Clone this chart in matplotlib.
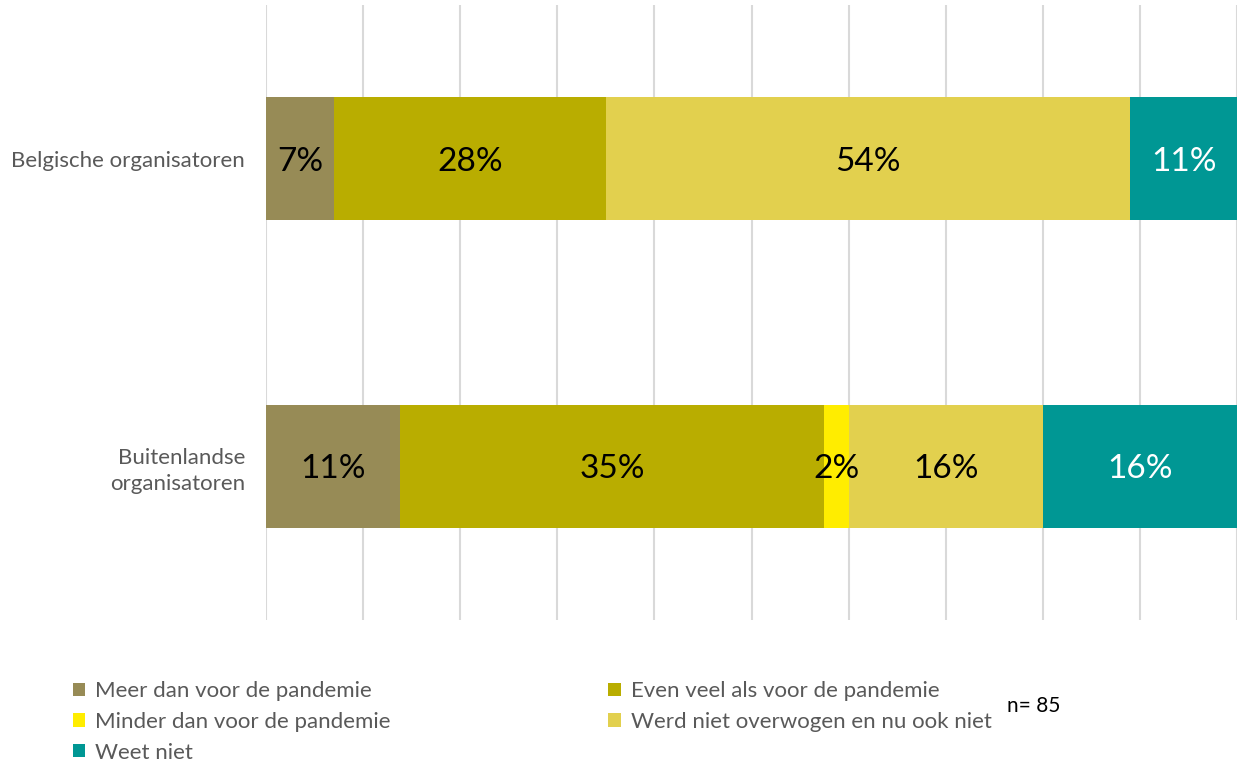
import matplotlib.pyplot as plt
import numpy as np

# data
categories = ["Belgische organisatoren", "Buitenlandse\norganisatoren"]
series = ["Meer dan voor de pandemie", "Even veel als voor de pandemie",
          "Minder dan voor de pandemie", "Werd niet overwogen en nu ook niet",
          "Weet niet"]
meer = [7, 11]
even = [28, 35]
minder = [0, 2]
werd = [54, 16]
weet = [11, 16]
colors = ["#978B56", "#B9AD00", "#FFED00", "#E2D04E", "#009794"]
label_colors = ["black", "black", "black", "black", "white"]

plt.rcParams["font.family"] = ["Lato", "DejaVu Sans"]

values = np.array([meer, even, minder, werd, weet], dtype=float)
shares = values / values.sum(axis=0) * 100

fig = plt.figure(figsize=(12.42, 7.71), dpi=100)
ax = fig.add_axes([0.2142, 0.196, 0.7818, 0.7975])

y = np.arange(len(categories))
left = np.zeros(len(categories))
handles = []
for i, name in enumerate(series):
    h = ax.barh(y, shares[i], left=left, height=0.4, color=colors[i],
                label=name, zorder=3)
    handles.append(h)
    for j in range(len(categories)):
        if values[i, j] > 0:
            ax.text(left[j] + shares[i, j] / 2, y[j] + 0.01, f"{values[i, j]:.0f}%",
                    ha="center", va="center", fontsize=24,
                    color=label_colors[i], zorder=4)
    left += shares[i]

ax.set_xlim(0, 100)
ax.set_ylim(1.5, -0.5)
ax.set_xticks(np.arange(0, 101, 10))
ax.set_xticklabels([])
ax.tick_params(axis="x", length=0)
ax.tick_params(axis="y", length=0, pad=15, labelsize=16, labelcolor="#595959")
ax.set_yticks(y)
ax.set_yticklabels(categories, linespacing=1.35)
ax.grid(axis="x", color="#D9D9D9", linewidth=1.5, zorder=0)
for s in ax.spines.values():
    s.set_visible(False)

order = [0, 2, 4, 1, 3]
leg = fig.legend([handles[k] for k in order], [series[k] for k in order],
                 ncol=2, loc="upper left", bbox_to_anchor=(0.0515, 0.128),
                 frameon=False, fontsize=16, handlelength=0.55, handleheight=0.55,
                 handletextpad=0.45, columnspacing=9.8, labelspacing=0.48,
                 borderaxespad=0)
for t in leg.get_texts():
    t.set_color("#595959")

fig.text(0.811, 0.077, "n= 85", fontsize=15, color="black")

fig.savefig("out.png", dpi=100)
